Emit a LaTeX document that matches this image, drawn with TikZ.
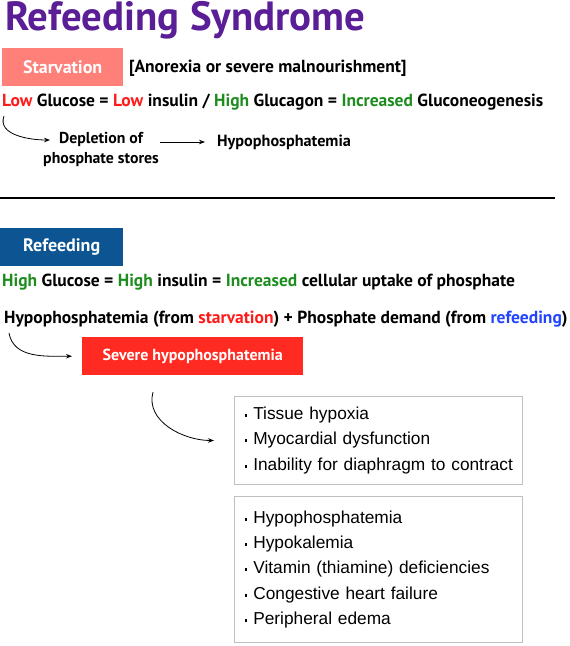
\documentclass[tikz,border=0pt]{standalone}
\usepackage{fontspec}
\setmainfont{PT Sans}
\newfontfamily\listfont{Liberation Sans}
\usetikzlibrary{positioning,arrows.meta,calc}
\definecolor{titlepurple}{HTML}{5A1E96}
\definecolor{starvsalmon}{HTML}{FF7F79}
\definecolor{refeedblue}{HTML}{0C5492}
\definecolor{severered}{HTML}{FF2A22}
\definecolor{txtred}{HTML}{FF1A1A}
\definecolor{txtgreen}{HTML}{1E8C1E}
\definecolor{txtblue}{HTML}{2244FF}
\newcommand{\sqbul}{\hspace*{3pt}\raisebox{0.3ex}{\rule{2.8pt}{2.8pt}}\hspace{6pt}}
\begin{document}
\begin{tikzpicture}[x=1pt,y=-1pt,>={Stealth[length=6pt,width=4.5pt]},
  txt/.style={font=\bfseries\fontsize{17.5}{20}\selectfont,inner sep=0pt,anchor=west},
  tag/.style={fill=#1,text=white,font=\bfseries\fontsize{18}{20}\selectfont,minimum height=38pt,anchor=north west},
  listbox/.style={draw=black!25,line width=1pt,minimum width=288pt,anchor=north west,align=left,
    text width=274pt,font=\listfont\fontsize{17.3}{25.3}\selectfont,inner xsep=7pt,inner ysep=6pt},
  curv/.style={->,line width=0.8pt}]
  \useasboundingbox (0,0) rectangle (570,646);
  % title
  \node[inner sep=0pt,anchor=base west,text=titlepurple,font=\bfseries\fontsize{40.8}{42}\selectfont] (title) at (5,30) {Refeeding Syndrome};
  % starvation part
  \node[tag=starvsalmon,minimum width=121pt] (starv) at (2,48) {Starvation};
  \node[txt] (anor) at (129,68) {[Anorexia or severe malnourishment]};
  \node[txt] (gluc) at (2,102) {\textcolor{txtred}{Low} Glucose = \textcolor{txtred}{Low} insulin / \textcolor{txtgreen}{High} Glucagon = \textcolor{txtgreen}{Increased} Gluconeogenesis};
  \node[txt,anchor=center,align=center,font=\bfseries\fontsize{15.8}{20}\selectfont] (deplet) at (101,149) {Depletion of\\phosphate stores};
  \node[txt,font=\bfseries\fontsize{16.2}{20}\selectfont] (hypo) at (217,142) {Hypophosphatemia};
  \coordinate (c1) at (4,116);
  \coordinate (c1e) at (50,140);
  \draw[curv] (c1) to[out=-110,in=180] (c1e);
  \draw[->,line width=0.8pt] ($(hypo.west)+(-57,0)$) -- ($(hypo.west)+(-12,0)$);
  % divider
  \coordinate (divl) at (0,198);
  \coordinate (divr) at (555,198);
  \draw[line width=1.6pt] (divl) -- (divr);
  % refeeding part
  \node[tag=refeedblue,minimum width=123pt] (refeed) at (0,228) {Refeeding};
  \node[txt] (high) at (2,282) {\textcolor{txtgreen}{High} Glucose = \textcolor{txtgreen}{High} insulin = \textcolor{txtgreen}{Increased} cellular uptake of phosphate};
  \node[txt] (demand) at (4,319) {Hypophosphatemia (from \textcolor{txtred}{starvation}) + Phosphate demand (from \textcolor{txtblue}{refeeding})};
  \node[tag=severered,minimum width=221pt,font=\bfseries\fontsize{16}{18}\selectfont] (severe) at (82,337) {Severe hypophosphatemia};
  \coordinate (c2) at (9,333);
  \draw[curv] (c2) to[out=-80,in=180] ($(severe.west)+(-10,0)$);
  % consequences
  \node[listbox,minimum height=88pt] (acute) at (234,396) {\sqbul Tissue hypoxia\\\sqbul Myocardial dysfunction\\\sqbul Inability for diaphragm to contract};
  \node[listbox,minimum height=146pt] (chronic) at (234,496) {\sqbul Hypophosphatemia\\\sqbul Hypokalemia\\\sqbul Vitamin (thiamine) deficiencies\\\sqbul Congestive heart failure\\\sqbul Peripheral edema};
  \coordinate (c3) at (153,392);
  \draw[curv] (c3) to[out=-105,in=180] ($(acute.west)+(-20,0)$);
\end{tikzpicture}
\end{document}
